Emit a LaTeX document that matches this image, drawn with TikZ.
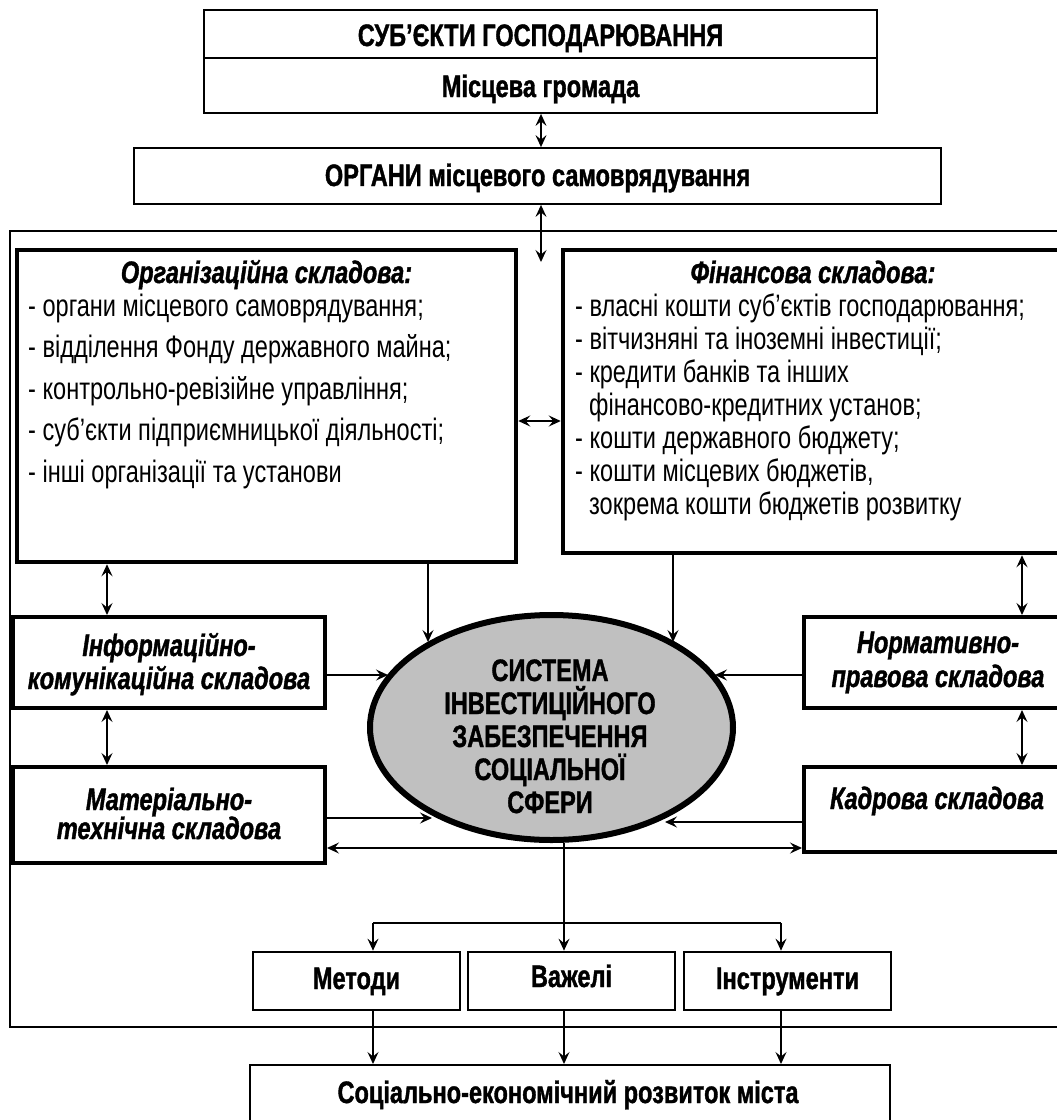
\documentclass[tikz,border=0pt]{standalone}
\usepackage{fontspec}
\setmainfont{Liberation Sans}[FakeStretch=0.76, BoldFeatures={FakeBold=1.2}, BoldItalicFeatures={FakeBold=1.2}]
\usetikzlibrary{arrows.meta,shapes.geometric}
\definecolor{ovalgray}{RGB}{192,192,192}
\begin{document}
\begin{tikzpicture}[x=1pt,y=-1pt,
  every node/.style={inner sep=0pt},
  thinbox/.style={draw, line width=1.8pt},
  heavybox/.style={draw, line width=4.5pt},
  sidebox/.style={draw, line width=4pt},
  toolbox/.style={draw, line width=2.7pt},
  framebox/.style={draw, line width=1.6pt},
  itemtext/.style={font=\fontsize{31}{36}\selectfont, anchor=base west},
  strong/.style={font=\fontsize{31}{36}\selectfont\bfseries, anchor=base},
  strongit/.style={font=\fontsize{31}{36}\selectfont\bfseries\itshape, anchor=base},
  link/.style={line width=1.3pt},
  hd/.tip={Stealth[length=12pt,width=11pt,inset=4.5pt]},
  arr/.style={link, -hd},
  dbl/.style={link, hd-hd}]

\useasboundingbox (0,0) rectangle (1057,1120);
\fill[white] (0,0) rectangle (1057,1120);
\clip (0,0) rectangle (1057,1120);

% outer frame
\node[framebox, minimum width=1065pt, minimum height=796pt] (frame) at (542.5,629) {};

% top blocks
\node[thinbox, minimum width=673pt, minimum height=48pt] (subj) at (540.5,34) {};
\node[thinbox, minimum width=673pt, minimum height=55pt] (hrom) at (540.5,85.5) {};
\node[thinbox, minimum width=807pt, minimum height=56pt] (org0) at (537.5,176) {};
\node[strong] (t1) at (540.5,46) {СУБ’ЄКТИ ГОСПОДАРЮВАННЯ};
\node[strong] (t2) at (540.5,97) {Місцева громада};
\node[strong] (t3) at (537.5,186) {ОРГАНИ місцевого самоврядування};

% organisational and financial components
\node[heavybox, minimum width=499pt, minimum height=312pt] (org) at (266.5,406) {};
\node[heavybox, minimum width=512pt, minimum height=303pt] (fin) at (819,401.5) {};
\node[strongit] (t4) at (266.5,283) {Організаційна складова:};
\node[strongit] (t5) at (813,283) {Фінансова складова:};
\foreach \t [count=\i] in {{- органи місцевого самоврядування;},
  {- відділення Фонду державного майна;},
  {- контрольно-ревізійне управління;},
  {- суб’єкти підприємницької діяльності;},
  {- інші організації та установи}}
  \node[itemtext] (o\i) at (28,{316+41.5*(\i-1)}) {\t};
\foreach \x/\t [count=\i] in {575/{- власні кошти суб’єктів господарювання;},
  575/{- вітчизняні та іноземні інвестиції;},
  575/{- кредити банків та інших},
  589/{фінансово-кредитних установ;},
  575/{- кошти державного бюджету;},
  575/{- кошти місцевих бюджетів,},
  589/{зокрема кошти бюджетів розвитку}}
  \node[itemtext] (f\i) at (\x,{316+33*(\i-1)}) {\t};

% side components
\node[sidebox, minimum width=312pt, minimum height=91pt] (info) at (169,662.5) {};
\node[sidebox, minimum width=312pt, minimum height=96pt] (mat) at (169,815) {};
\node[sidebox, minimum width=271pt, minimum height=91pt] (norm) at (939.5,662.5) {};
\node[sidebox, minimum width=271pt, minimum height=85pt] (kad) at (939.5,809.5) {};
\node[strongit] (i1) at (169,656) {Інформаційно-};
\node[strongit] (i2) at (169,689) {комунікаційна складова};
\node[strongit] (m1) at (169,810) {Матеріально-};
\node[strongit] (m2) at (169,839) {технічна складова};
\node[strongit] (n1) at (938,653) {Нормативно-};
\node[strongit] (n2) at (938,687) {правова складова};
\node[strongit] (k1) at (937,809) {Кадрова складова};

% central system
\node[draw, ellipse, line width=6pt, fill=ovalgray,
      minimum width=363pt, minimum height=225pt] (el) at (551.5,727.5) {};
\foreach \t [count=\i] in {СИСТЕМА, ІНВЕСТИЦІЙНОГО, ЗАБЕЗПЕЧЕННЯ, СОЦІАЛЬНОЇ, СФЕРИ}
  \node[strong] (e\i) at (550,{681+33*(\i-1)}) {\t};

% methods, levers, instruments
\node[toolbox, minimum width=207pt, minimum height=58pt] (met) at (356.5,981) {};
\node[toolbox, minimum width=207pt, minimum height=58pt] (vaz) at (571.5,981) {};
\node[toolbox, minimum width=207pt, minimum height=58pt] (ins) at (787.5,981) {};
\node[strong] (mt) at (356.5,989) {Методи};
\node[strong] (vt) at (571.5,987) {Важелі};
\node[strong] (it) at (787.5,989) {Інструменти};

% result
\node[draw, line width=2pt, minimum width=640pt, minimum height=70pt] (res) at (570,1100) {};
\node[strong] (rt) at (568,1103) {Соціально-економічний розвиток міста};

% arrow end points on the oval and branch points
\coordinate (pOrg) at (428,642);
\coordinate (pFin) at (673,642);
\coordinate (pInf) at (388,675);
\coordinate (pMat) at (432,818);
\coordinate (pNor) at (715,675);
\coordinate (pKad) at (665,822);
\coordinate (pTop) at (541,262);
\coordinate (bC) at (564,923);
\coordinate (bL) at (373,923);
\coordinate (bR) at (781,923);

% connectors
\draw[dbl] (hrom.south -| 541,0) -- (org0.north -| 541,0);
\draw[dbl] (org0.south -| pTop) -- (pTop);
\draw[dbl] (org.east |- 0,421) -- (fin.west |- 0,421);
\draw[dbl] (org.south -| 107,0) -- (info.north -| 107,0);
\draw[dbl] (info.south -| 107,0) -- (mat.north -| 107,0);
\draw[dbl] (fin.south -| 1022,0) -- (norm.north -| 1022,0);
\draw[dbl] (norm.south -| 1022,0) -- (kad.north -| 1022,0);
\draw[arr] (org.south -| pOrg) -- (pOrg);
\draw[arr] (fin.south -| pFin) -- (pFin);
\draw[arr] (info.east |- pInf) -- (pInf);
\draw[arr] (mat.east |- pMat) -- (pMat);
\draw[arr] (norm.west |- pNor) -- (pNor);
\draw[arr] (kad.west |- pKad) -- (pKad);
\draw[dbl] (mat.east |- 0,848) -- (kad.west |- 0,848);

\draw[arr] (el.south -| bC) -- (bC |- vaz.north);
\draw[link] (bL) -- (bR);
\draw[arr] (bL) -- (bL |- met.north);
\draw[arr] (bR) -- (bR |- ins.north);
\draw[arr] (met.south -| bL) -- (bL |- res.north);
\draw[arr] (vaz.south -| bC) -- (bC |- res.north);
\draw[arr] (ins.south -| bR) -- (bR |- res.north);
\end{tikzpicture}
\end{document}
